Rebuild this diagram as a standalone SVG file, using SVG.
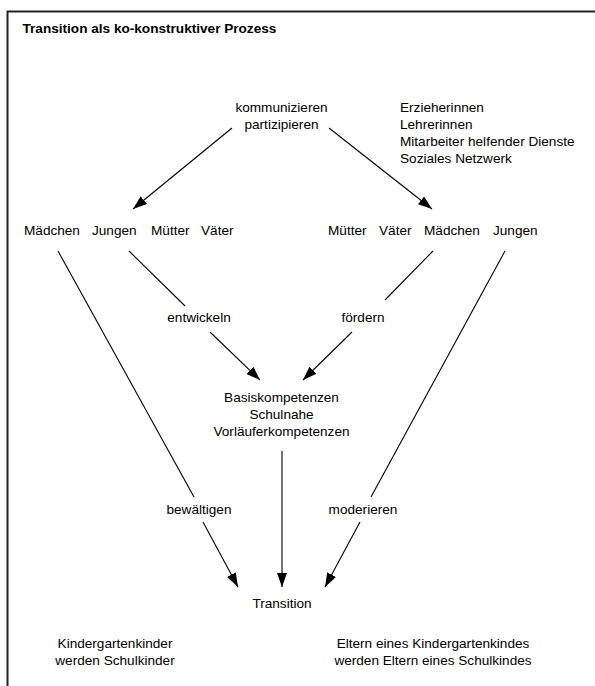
<svg xmlns="http://www.w3.org/2000/svg" width="595" height="686" viewBox="0 0 595 686">
<defs>
<marker id="ah" viewBox="0 0 14 10" refX="14" refY="5" markerWidth="14" markerHeight="10" markerUnits="userSpaceOnUse" orient="auto">
<path d="M0,0 L14,5 L0,10 z" fill="#000"/>
</marker>
<style>
text{font-family:"Liberation Sans",Arial,sans-serif;font-size:13.6px;fill:#000}
.c{text-anchor:middle}
.t{font-weight:bold}
.ln{stroke:#000;stroke-width:1.1;fill:none}
.ar{stroke:#000;stroke-width:1.1;fill:none;marker-end:url(#ah)}
</style>
</defs>
<rect width="595" height="686" fill="#fff"/>
<path d="M7.5,686 V11.5 H595" fill="none" stroke="#222" stroke-width="2"/>
<text class="t" x="22.5" y="33">Transition als ko-konstruktiver Prozess</text>

<g id="connectors">
<line class="ar" x1="232" y1="128" x2="133" y2="209"/>
<line class="ar" x1="329" y1="128" x2="432" y2="209"/>
<line class="ln" x1="129" y1="251" x2="185" y2="306"/>
<line class="ar" x1="210" y1="332" x2="260" y2="380"/>
<line class="ln" x1="433" y1="251" x2="385" y2="300"/>
<line class="ar" x1="352" y1="332" x2="303" y2="380"/>
<line class="ln" x1="58" y1="251" x2="194" y2="497"/>
<line class="ar" x1="203" y1="522" x2="238" y2="587"/>
<line class="ln" x1="505" y1="251" x2="371" y2="497"/>
<line class="ar" x1="360" y1="522" x2="325" y2="587"/>
<line class="ar" x1="282" y1="451" x2="282" y2="587"/>
</g>

<g id="kommunizieren">
<text class="c" x="281.5" y="112">kommunizieren</text>
<text class="c" x="281.5" y="129">partizipieren</text>
</g>
<g id="akteure">
<text x="400" y="112">Erzieherinnen</text>
<text x="400" y="129">Lehrerinnen</text>
<text x="400" y="146">Mitarbeiter helfender Dienste</text>
<text x="400" y="163">Soziales Netzwerk</text>
</g>
<g id="familie-links">
<text x="24" y="235">Mädchen</text>
<text x="92" y="235">Jungen</text>
<text x="151" y="235">Mütter</text>
<text x="201" y="235">Väter</text>
</g>
<g id="familie-rechts">
<text x="328" y="235">Mütter</text>
<text x="379" y="235">Väter</text>
<text x="424" y="235">Mädchen</text>
<text x="493" y="235">Jungen</text>
</g>
<g id="entwickeln"><text class="c" x="199" y="322">entwickeln</text></g>
<g id="foerdern"><text class="c" x="363" y="322">fördern</text></g>
<g id="kompetenzen">
<text class="c" x="281.5" y="402">Basiskompetenzen</text>
<text class="c" x="281.5" y="419">Schulnahe</text>
<text class="c" x="281.5" y="436">Vorläuferkompetenzen</text>
</g>
<g id="bewaeltigen"><text class="c" x="199" y="514">bewältigen</text></g>
<g id="moderieren"><text class="c" x="363" y="514">moderieren</text></g>
<g id="transition"><text class="c" x="282" y="608">Transition</text></g>
<g id="kinder">
<text class="c" x="115" y="648">Kindergartenkinder</text>
<text class="c" x="115" y="665">werden Schulkinder</text>
</g>
<g id="eltern">
<text class="c" x="433" y="648">Eltern eines Kindergartenkindes</text>
<text class="c" x="433" y="665">werden Eltern eines Schulkindes</text>
</g>
</svg>
